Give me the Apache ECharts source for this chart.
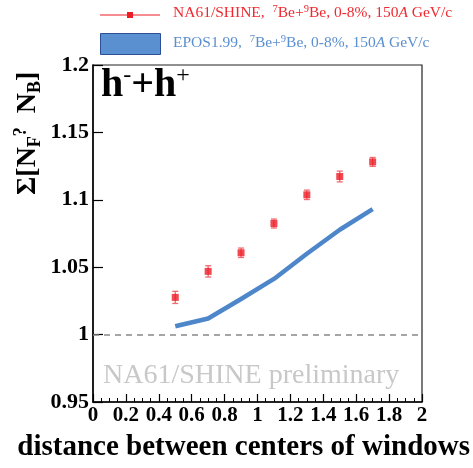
<!DOCTYPE html>
<html>
<head>
<meta charset="utf-8">
<script src="https://cdn.jsdelivr.net/npm/echarts@6/dist/echarts.min.js"></script>
<style>
html,body{margin:0;padding:0;background:#fff;}
#c{width:473px;height:468px;}
</style>
</head>
<body>
<div id="c"></div>
<script>
// Data
var xData = [0.5, 0.7, 0.9, 1.1, 1.3, 1.5, 1.7];
var na61Values = [1.0276, 1.0469, 1.0607, 1.0824, 1.1037, 1.1173, 1.1281];
var na61Errors = [0.0045, 0.0042, 0.0035, 0.0033, 0.0035, 0.0040, 0.0033];
var eposX = [0.5, 0.7, 0.9, 1.1, 1.3, 1.5, 1.7];
var eposValues = [1.0062, 1.0119, 1.0264, 1.0413, 1.0600, 1.0778, 1.0931];
var xTicks = [0, 0.2, 0.4, 0.6, 0.8, 1, 1.2, 1.4, 1.6, 1.8, 2];
var yTicks = [0.95, 1, 1.05, 1.1, 1.15, 1.2];

var serif = '"Liberation Serif","DejaVu Serif",serif';
var chart = echarts.init(document.getElementById('c'));

var na61Points = xData.map(function(x,i){return [x, na61Values[i]];});
var errData = xData.map(function(x,i){return [x, na61Values[i]-na61Errors[i], na61Values[i]+na61Errors[i]];});
var eposPoints = eposX.map(function(x,i){return [x, eposValues[i]];});

var option = {
  animation: false,
  backgroundColor: '#fff',
  grid: {left: 93, right: 51, top: 65, bottom: 66, show: true, borderColor: '#222', borderWidth: 1.2,
         backgroundColor: 'transparent', containLabel: false, outerBoundsMode: 'none'},
  xAxis: {
    type: 'value', min: 0, max: 2, interval: 0.2,
    axisLine: {show: true, onZero: false, lineStyle: {color: '#000', width: 1.5}},
    axisTick: {show: true, inside: true, length: 8, lineStyle: {color: '#000', width: 1.2}},
    minorTick: {show: true, splitNumber: 4, length: 4, lineStyle: {color: '#000', width: 1}},
    splitLine: {show: false},
    axisLabel: {
      fontFamily: serif, fontWeight: 'bold', fontSize: 21, color: '#000', margin: 3,
      formatter: function(v){ return String(Math.round(v*10)/10); }
    }
  },
  yAxis: {
    type: 'value', min: 0.95, max: 1.2, interval: 0.05,
    axisLine: {show: true, onZero: false, lineStyle: {color: '#000', width: 1.5}},
    axisTick: {show: true, inside: true, length: 10, lineStyle: {color: '#000', width: 1.2}},
    splitLine: {show: false},
    axisLabel: {
      fontFamily: serif, fontWeight: 'bold', fontSize: 22, color: '#000', margin: 4,
      formatter: function(v){ return String(Math.round(v*100)/100); }
    }
  },
  series: [
    {
      type: 'line', data: eposPoints, showSymbol: false, symbol: 'none',
      lineStyle: {color: '#4d87c9', width: 4.5}, z: 2,
      markLine: {
        silent: true, symbol: 'none', label: {show: false},
        lineStyle: {color: '#888', type: [6, 5], width: 1.5},
        data: [{yAxis: 1}]
      }
    },
    {
      type: 'custom', z: 3,
      renderItem: function(params, api){
        var x = api.value(0);
        var lo = api.coord([x, api.value(1)]);
        var hi = api.coord([x, api.value(2)]);
        var cw = 3;
        var st = {stroke: '#f06a70', lineWidth: 1.3};
        return {type: 'group', children: [
          {type: 'line', shape: {x1: lo[0], y1: lo[1], x2: hi[0], y2: hi[1]}, style: st},
          {type: 'line', shape: {x1: lo[0]-cw, y1: lo[1], x2: lo[0]+cw, y2: lo[1]}, style: st},
          {type: 'line', shape: {x1: hi[0]-cw, y1: hi[1], x2: hi[0]+cw, y2: hi[1]}, style: st}
        ]};
      },
      data: errData
    },
    {
      type: 'scatter', data: na61Points, symbol: 'rect', symbolSize: 7,
      itemStyle: {color: '#ee1c25'}, z: 4
    }
  ],
  graphic: [
    // Legend
    {type: 'line', shape: {x1: 100, y1: 15, x2: 160, y2: 15}, style: {stroke: '#ee1c25', lineWidth: 1.2}},
    {type: 'rect', shape: {x: 127, y: 12, width: 6, height: 6}, style: {fill: '#ee1c25'}},
    {type: 'text', left: 173, top: 4, style: {
      text: '{n|NA61/SHINE,  }{s|7}{n|Be+}{s|9}{n|Be, 0-8%, 150}{i|A}{n| GeV/c}',
      rich: {
        n: {fontFamily: serif, fontSize: 15.5, fill: '#ee2a30'},
        i: {fontFamily: serif, fontSize: 15.5, fontStyle: 'italic', fill: '#ee2a30'},
        s: {fontFamily: serif, fontSize: 10.5, fill: '#ee2a30', verticalAlign: 'top', padding: [0,0,7,0]}
      }
    }},
    {type: 'rect', shape: {x: 100.5, y: 33.5, width: 60, height: 21}, style: {fill: '#5a8fd0', stroke: '#2c4f9a', lineWidth: 1}},
    {type: 'text', left: 173, top: 34, style: {
      text: '{n|EPOS1.99,  }{s|7}{n|Be+}{s|9}{n|Be, 0-8%, 150}{i|A}{n| GeV/c}',
      rich: {
        n: {fontFamily: serif, fontSize: 15.5, fill: '#5a8fd0'},
        i: {fontFamily: serif, fontSize: 15.5, fontStyle: 'italic', fill: '#5a8fd0'},
        s: {fontFamily: serif, fontSize: 10.5, fill: '#5a8fd0', verticalAlign: 'top', padding: [0,0,7,0]}
      }
    }},
    // h- + h+
    {type: 'text', left: 101, top: 64, style: {
      text: '{b|h}{u|-}{b|+h}{u|+}',
      rich: {
        b: {fontFamily: serif, fontSize: 40, fontWeight: 'bold', fill: '#000'},
        u: {fontFamily: serif, fontSize: 24, fill: '#000', verticalAlign: 'top', padding: [0,0,20,0]}
      }
    }},
    // preliminary
    {type: 'text', left: 103, top: 362, style: {
      text: 'NA61/SHINE preliminary', fontFamily: serif, fontSize: 28, fill: '#c8c8c8'
    }},
    // X axis title
    {type: 'text', right: 3, top: 433, style: {
      text: 'distance between centers of windows', fontFamily: serif, fontSize: 29, fontWeight: 'bold', fill: '#000'
    }},
    // Y axis title
    {type: 'text', x: 12, y: 195, rotation: Math.PI/2, style: {
      text: '{b|Σ[N}{d|F}{q|?}{b|  N}{d|B}{b|]}',
      rich: {
        b: {fontFamily: serif, fontSize: 28, fontWeight: 'bold', fill: '#000'},
        d: {fontFamily: serif, fontSize: 18, fontWeight: 'bold', fill: '#000', verticalAlign: 'bottom', padding: [14,0,0,0]},
        q: {fontFamily: serif, fontSize: 18, fontWeight: 'bold', fill: '#000', verticalAlign: 'top', padding: [0,0,8,0]}
      }
    }}
  ]
};
chart.setOption(option);
</script>
</body>
</html>
